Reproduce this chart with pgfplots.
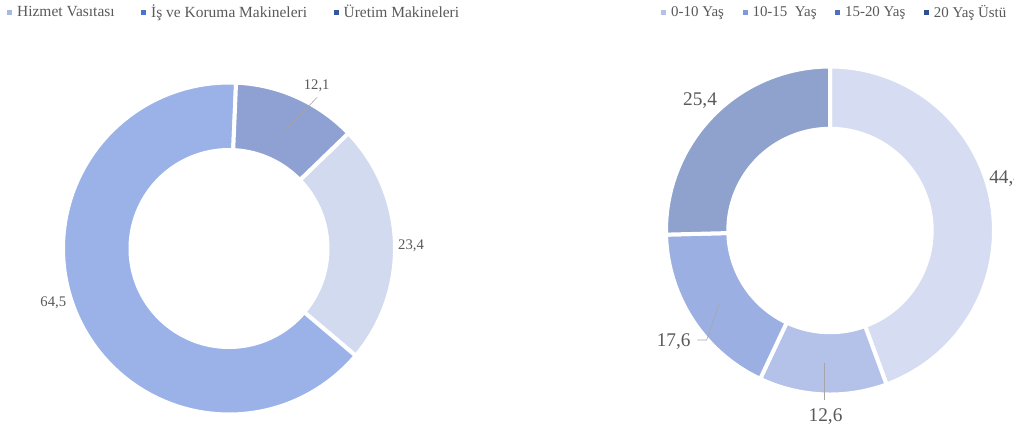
\documentclass[border=0pt]{standalone}
\usepackage{pgfplots}
\pgfplotsset{compat=1.18}
\usepackage{pgfplotstable}
\usepackage{fontspec}
\setmainfont{Liberation Serif}

\definecolor{lbl}{HTML}{595959}
\definecolor{lead}{HTML}{A6A6A6}
% left donut (slice fill / legend key)
\definecolor{lc0}{HTML}{D2DAF0}\definecolor{lk0}{HTML}{A9B8E2}
\definecolor{lc1}{HTML}{9BB2E9}\definecolor{lk1}{HTML}{4A74D4}
\definecolor{lc2}{HTML}{8FA1D2}\definecolor{lk2}{HTML}{34579F}
% right donut
\definecolor{rc0}{HTML}{D6DDF2}\definecolor{rk0}{HTML}{B4C2E8}
\definecolor{rc1}{HTML}{B4C2EA}\definecolor{rk1}{HTML}{8199DB}
\definecolor{rc2}{HTML}{9BAFE2}\definecolor{rk2}{HTML}{4A6FC4}
\definecolor{rc3}{HTML}{8FA1CD}\definecolor{rk3}{HTML}{2F4F8F}

% shares in %
\pgfplotstableread{
value
23.4
64.5
12.1
}\makinedata
\pgfplotstableread{
value
44.4
12.6
17.6
25.4
}\yasdata

\tikzset{
  lab/.style={font=\fontsize{11}{13}\selectfont, text=lbl, anchor=base, inner sep=0pt},
  rlab/.style={font=\fontsize{14.5}{17}\selectfont, text=lbl, anchor=base, inner sep=0pt},
}
\pgfplotsset{
  slice/.style={fill=#1, draw=white, line width=3pt},
  lsl0/.style={slice=lc0}, lsl1/.style={slice=lc1}, lsl2/.style={slice=lc2},
  rsl0/.style={slice=rc0}, rsl1/.style={slice=rc1},
  rsl2/.style={slice=rc2}, rsl3/.style={slice=rc3},
  canvas/.style={
    at={(0,0)}, anchor=south west, scale only axis,
    width=760.5pt, height=322.5pt,
    xmin=0, xmax=1014, ymin=0, ymax=430, y dir=reverse,
    enlargelimits=false, hide axis, clip=false,
    legend columns=-1,
    legend image code/.code={\fill[##1] (0pt,-1.5pt) rectangle (3pt,1.5pt);},
    legend style={draw=none, fill=none, inner sep=0pt, outer sep=0pt,
      font=\fontsize{11.6}{13}\selectfont, text=lbl,
      nodes={inner xsep=0pt, inner ysep=1pt},
      /tikz/every odd column/.append style={column sep=4pt}},
  },
}

% #1 table, #2 cx, #3 cy, #4 outer r, #5 inner r, #6 start angle, #7 style prefix
\newcommand\donut[7]{%
  \pgfplotstablegetrowsof{#1}%
  \pgfmathtruncatemacro\nrows{\pgfplotsretval-1}%
  \xdef\cum{#6}%
  \pgfplotsforeachungrouped \i in {0,...,\nrows}{%
    \pgfplotstablegetelem{\i}{value}\of#1%
    \pgfmathsetmacro\a{\cum}%
    \pgfmathsetmacro\b{\cum+3.6*\pgfplotsretval}%
    \edef\cmd{\noexpand\addplot[#7\i, domain=\a:\b, samples=90]
      ({#2+#4*sin(x)},{#3-#4*cos(x)}) -- (axis cs:#2,#3) -- cycle;}%
    \cmd
    \xdef\cum{\b}%
  }%
  \addplot[fill=white, draw=none, domain=0:360, samples=181]
    ({#2+#5*sin(x)},{#3-#5*cos(x)}) -- cycle;
}

\begin{document}
\begin{tikzpicture}
\begin{axis}[canvas,
  legend style={at={(7.3/1014,1-12.3/430)}, anchor=west,
    /tikz/every even column/.append style={column sep=20pt}}]
  \addlegendimage{lk0}\addlegendentry{Hizmet Vasıtası}
  \addlegendimage{lk1}\addlegendentry{İş ve Koruma Makineleri}
  \addlegendimage{lk2}\addlegendentry{Üretim Makineleri}
  \donut{\makinedata}{229}{248.5}{166}{100.5}{46}{lsl}
  \addplot[lead] coordinates {(317.3,97.3) (285.7,129)};
  \node[lab] at (axis cs:316.7,89.3) {12,1};
  \node[lab] at (axis cs:411,249) {23,4};
  \node[lab] at (axis cs:53.3,306) {64,5};
\end{axis}
\begin{axis}[canvas,
  legend style={at={(661.3/1014,1-12.3/430)}, anchor=west,
    font=\fontsize{11.2}{13}\selectfont,
    /tikz/every even column/.append style={column sep=14pt}}]
  \addlegendimage{rk0}\addlegendentry{0-10 Yaş}
  \addlegendimage{rk1}\addlegendentry{10-15\ \ Yaş}
  \addlegendimage{rk2}\addlegendentry{15-20 Yaş}
  \addlegendimage{rk3}\addlegendentry{20 Yaş Üstü}
  \donut{\yasdata}{830}{230.5}{164}{103.7}{0}{rsl}
  \addplot[lead] coordinates {(697.3,340) (706.7,340) (719.3,303.3)};
  \addplot[lead] coordinates {(824.3,400) (824.3,362.7)};
  \node[rlab] at (axis cs:700,105.3) {25,4};
  \node[rlab, anchor=base west] at (axis cs:989,183.3) {44,4};
  \node[rlab] at (axis cs:673.7,346.7) {17,6};
  \node[rlab] at (axis cs:825.5,421) {12,6};
\end{axis}
\pgfresetboundingbox
\path[use as bounding box] (0,0) rectangle (760.5pt,322.5pt);
\end{tikzpicture}
\end{document}
